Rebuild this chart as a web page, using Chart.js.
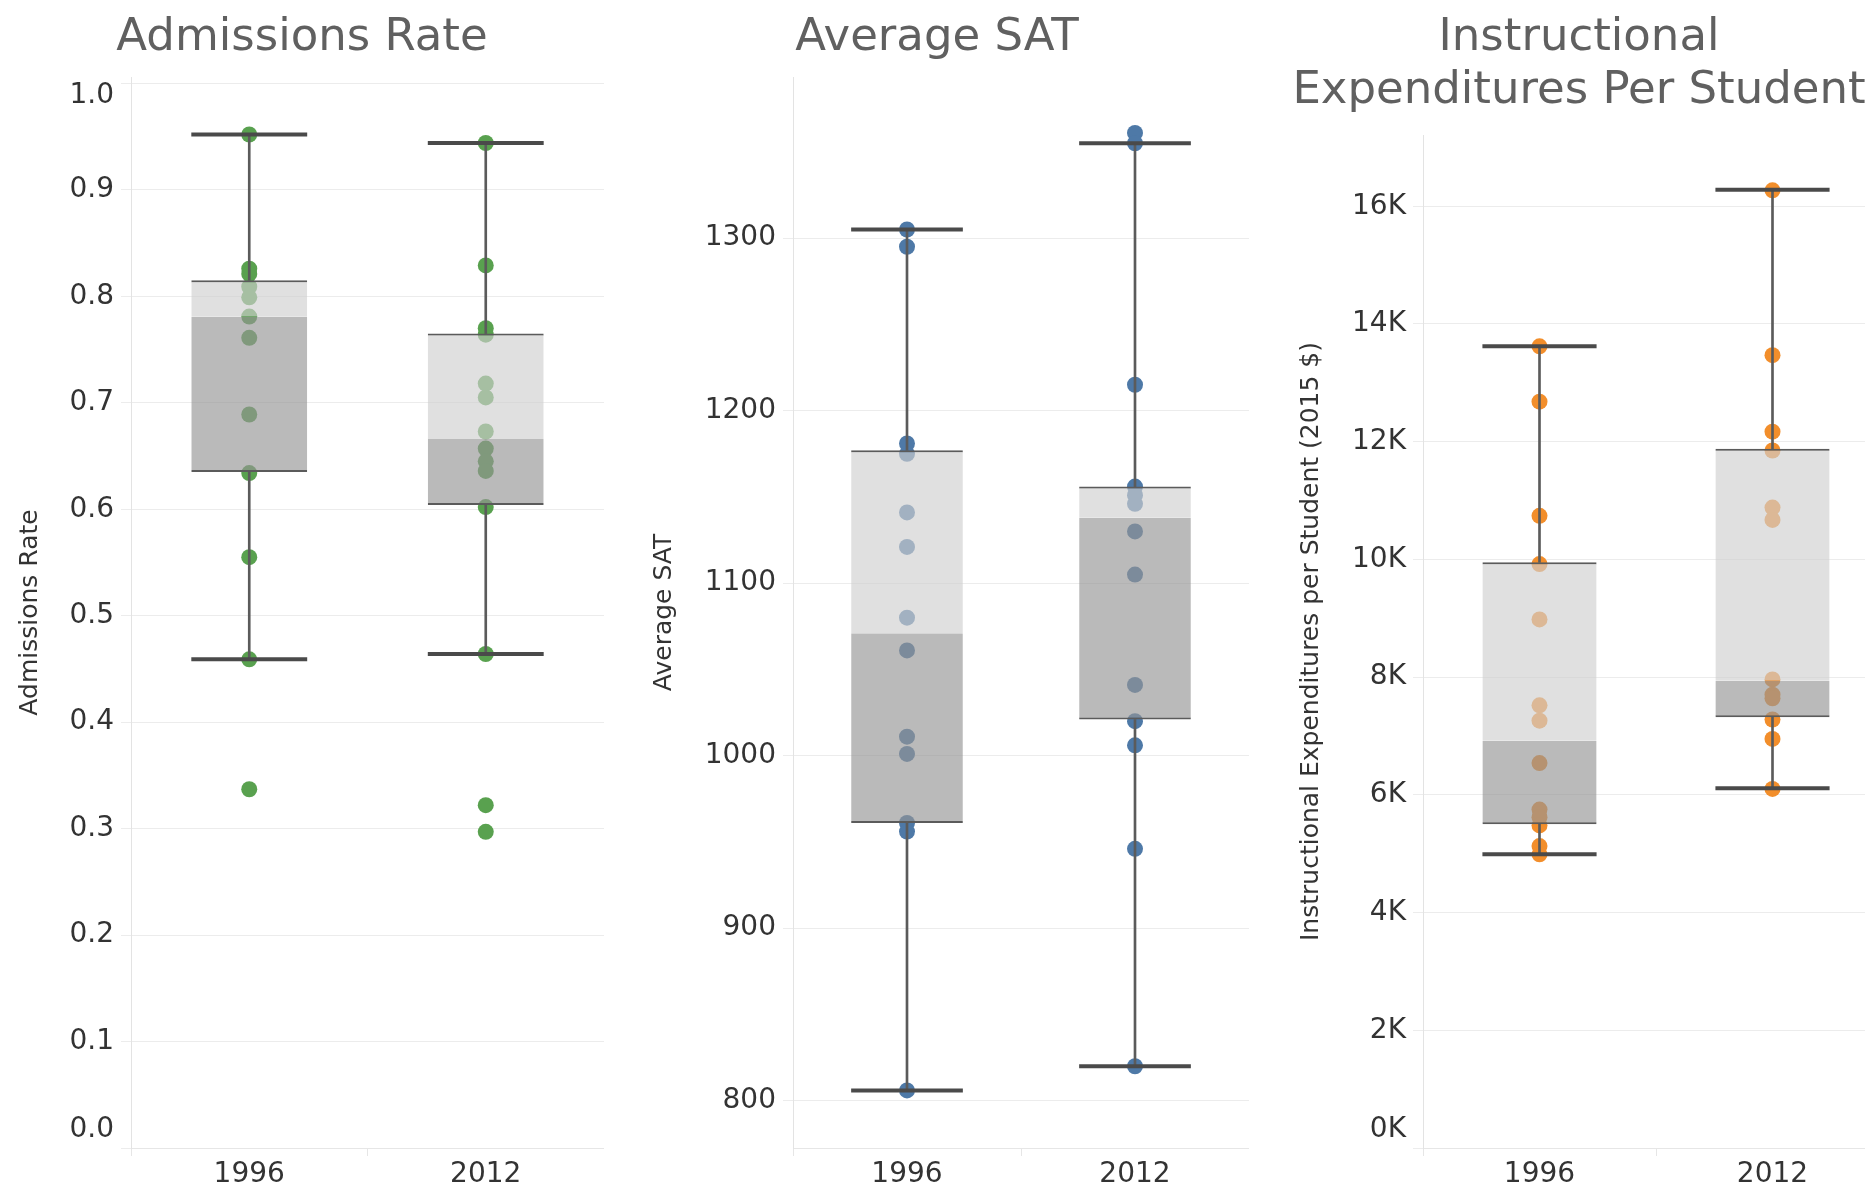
<!DOCTYPE html>
<html>
<head>
<meta charset="utf-8">
<title>Admissions Rate, Average SAT, Instructional Expenditures</title>
<script src="https://cdn.jsdelivr.net/npm/chart.js@4.4.1/dist/chart.umd.min.js"></script>
<style>
  html, body { margin: 0; padding: 0; background: #fff; width: 1865px; height: 1190px; overflow: hidden; }
  .panel { position: absolute; top: 0; }
</style>
</head>
<body>
<canvas id="rateChart" class="panel" width="604" height="1190" style="left:0px"></canvas>
<canvas id="satChart" class="panel" width="624" height="1190" style="left:625px"></canvas>
<canvas id="expChart" class="panel" width="620" height="1190" style="left:1269px"></canvas>
<script>
var years = ['1996', '2012'];

// Admissions rate, one dot per school
var rate1996 = [0.952, 0.826, 0.821, 0.809, 0.799, 0.781, 0.761, 0.689, 0.634, 0.555, 0.459, 0.337];
var rate2012 = [0.944, 0.829, 0.770, 0.764, 0.718, 0.705, 0.673, 0.657, 0.645, 0.636, 0.602, 0.464, 0.322, 0.297];
var rateLow = [0.459, 0.464];
var rateQ1 = [0.635, 0.604];
var rateMedian = [0.781, 0.666];
var rateQ3 = [0.815, 0.765];
var rateHigh = [0.952, 0.944];
var rateTicks = [0, 0.1, 0.2, 0.3, 0.4, 0.5, 0.6, 0.7, 0.8, 0.9, 1.0];

// Average SAT
var sat1996 = [1305, 1295, 1181, 1175, 1141, 1121, 1080, 1061, 1011, 1001, 961, 956, 806];
var sat2012 = [1361, 1355, 1215, 1156, 1151, 1146, 1130, 1105, 1041, 1020, 1006, 946, 820];
var satLow = [806, 820];
var satQ1 = [961, 1021];
var satMedian = [1071, 1138];
var satQ3 = [1177, 1156];
var satHigh = [1305, 1355];
var satTicks = [800, 900, 1000, 1100, 1200, 1300];

// Instructional expenditures per student (2015 $)
var exp1996 = [13620, 12680, 10740, 9920, 8980, 7520, 7260, 6540, 5750, 5620, 5480, 5130, 4990];
var exp2012 = [16270, 13470, 12170, 11850, 10880, 10670, 7960, 7700, 7640, 7280, 6950, 6100];
var expLow = [4990, 6110];
var expQ1 = [5500, 7320];
var expMedian = [6920, 7940];
var expQ3 = [9950, 11880];
var expHigh = [13620, 16280];
var expTicks = [0, 2000, 4000, 6000, 8000, 10000, 12000, 14000, 16000];

var boxShare = 0.49;
var lineGray = '#5b5b5b';

Chart.defaults.font.family = '"DejaVu Sans", "Noto Sans", sans-serif';
Chart.defaults.animation = false;

// keep the end labels of the value axis inside the pane, like the original does
var edgeLabels = {
  id: 'edgeLabels',
  beforeDraw: function(chart) {
    var s = chart.scales.y;
    s.getLabelItems().forEach(function(item) {
      var t = item.options.translation;
      t[1] = Math.min(Math.max(t[1], s.top + 19), s.bottom - 18);
    });
  }
};

function boxPanel(canvasId, p) {
  var dots = [];
  p.points.forEach(function(list, i) {
    list.forEach(function(v) { dots.push({x: years[i], y: v}); });
  });
  var caps = [];
  years.forEach(function(y, i) {
    caps.push({x: y, y: p.high[i]});
    caps.push({x: y, y: p.low[i]});
  });
  // cap is as wide as the box
  var capRadius = function(ctx) {
    var area = ctx.chart.chartArea;
    if (!area) return 50;
    return (area.right - area.left) / years.length * boxShare / 2;
  };

  return new Chart(document.getElementById(canvasId), {
    type: 'bar',
    plugins: [edgeLabels],
    data: {
      labels: years,
      datasets: [
        {
          type: 'line', data: dots, showLine: false,
          pointRadius: 8, pointHoverRadius: 8, pointBorderWidth: 0,
          pointBackgroundColor: p.color, order: 3
        },
        {
          data: years.map(function(y, i) { return [p.median[i], p.q3[i]]; }),
          backgroundColor: 'rgba(207,207,207,0.65)', borderColor: lineGray,
          borderWidth: {top: 2, right: 0, bottom: 0, left: 0}, borderSkipped: false,
          grouped: false, categoryPercentage: boxShare, barPercentage: 1, order: 2
        },
        {
          data: years.map(function(y, i) { return [p.q1[i], p.median[i]]; }),
          backgroundColor: 'rgba(149,149,149,0.65)', borderColor: lineGray,
          borderWidth: {top: 0, right: 0, bottom: 2, left: 0}, borderSkipped: false,
          grouped: false, categoryPercentage: boxShare, barPercentage: 1, order: 2
        },
        {
          data: years.map(function(y, i) { return [p.q3[i], p.high[i]]; }),
          backgroundColor: lineGray, barThickness: 2, grouped: false, order: 1
        },
        {
          data: years.map(function(y, i) { return [p.low[i], p.q1[i]]; }),
          backgroundColor: lineGray, barThickness: 2, grouped: false, order: 1
        },
        {
          type: 'line', data: caps, showLine: false,
          pointStyle: 'line', pointRadius: capRadius, pointHoverRadius: capRadius,
          pointBorderWidth: 4, pointBorderColor: '#4a4a4a', order: 0
        }
      ]
    },
    options: {
      responsive: false,
      devicePixelRatio: 1,
      layout: { padding: 0, autoPadding: false },
      plugins: {
        legend: { display: false },
        tooltip: { enabled: false },
        title: {
          display: true, text: p.title, color: '#606060',
          font: { size: 45, weight: 'normal', lineHeight: p.titleLine },
          padding: { top: p.titleTop, bottom: p.titleBottom }
        }
      },
      scales: {
        x: {
          afterFit: function(s) { s.height = 42; },
          grid: { drawOnChartArea: false, tickLength: 8, color: '#e6e6e6' },
          border: { color: '#e6e6e6' },
          ticks: { font: { size: 28 }, color: '#333', padding: 2 }
        },
        y: {
          min: p.min, max: p.max,
          afterBuildTicks: function(s) { s.ticks = p.ticks.map(function(v) { return {value: v}; }); },
          afterFit: function(s) { s.width = p.axisWidth; },
          grid: { color: '#ececec', tickLength: 10 },
          border: { color: '#e3e3e3' },
          ticks: {
            font: { size: 28 }, color: '#333', padding: 7, autoSkip: false,
            callback: function(v) { return p.fmt(v); }
          },
          title: {
            display: true, text: p.axisTitle, color: '#333',
            font: { size: 25 }, padding: { top: p.axisTitleTop, bottom: 0 }
          }
        }
      }
    }
  });
}

boxPanel('rateChart', {
  title: 'Admissions Rate', titleLine: 1.2, titleTop: 11, titleBottom: 12,
  axisTitle: 'Admissions Rate', axisTitleTop: 15, axisWidth: 131,
  points: [rate1996, rate2012], color: '#59a14f',
  low: rateLow, q1: rateQ1, median: rateMedian, q3: rateQ3, high: rateHigh,
  min: 0, max: 1.006, ticks: rateTicks,
  fmt: function(v) { return v.toFixed(1); }
});

boxPanel('satChart', {
  title: 'Average SAT', titleLine: 1.2, titleTop: 11, titleBottom: 12,
  axisTitle: 'Average SAT', axisTitleTop: 24, axisWidth: 168,
  points: [sat1996, sat2012], color: '#4e79a7',
  low: satLow, q1: satQ1, median: satMedian, q3: satQ3, high: satHigh,
  min: 772.6, max: 1393.4, ticks: satTicks,
  fmt: function(v) { return String(v); }
});

boxPanel('expChart', {
  title: ['Instructional', 'Expenditures Per Student'], titleLine: 53 / 45, titleTop: 11.5, titleBottom: 17.5,
  axisTitle: 'Instructional Expenditures per Student (2015 $)', axisTitleTop: 27, axisWidth: 154,
  points: [exp1996, exp2012], color: '#f28e2b',
  low: expLow, q1: expQ1, median: expMedian, q3: expQ3, high: expHigh,
  min: 0, max: 17210, ticks: expTicks,
  fmt: function(v) { return (v / 1000) + 'K'; }
});
</script>
</body>
</html>
